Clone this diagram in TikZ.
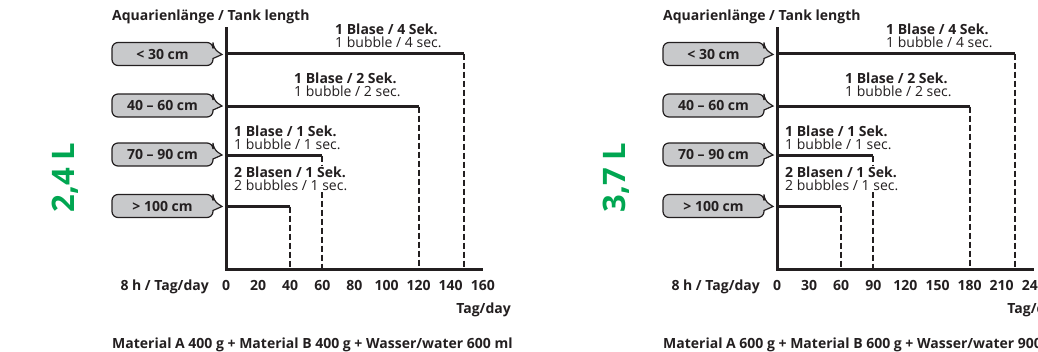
\documentclass[tikz,border=0pt]{standalone}
\usepackage{fontspec}
\setmainfont{Open Sans}
\usetikzlibrary{positioning,calc}
\definecolor{inkgray}{HTML}{231F20}
\definecolor{boxgray}{HTML}{C8C9CB}
\definecolor{dosegreen}{HTML}{00A651}
\tikzset{
  axisline/.style={draw=inkgray, line width=3pt},
  barline/.style={draw=inkgray, line width=3pt},
  guideline/.style={draw=inkgray, line width=2pt, dash pattern=on 6pt off 3pt},
  bubbleline/.style={draw=inkgray, fill=boxgray, line width=1.2pt},
  tankbox/.style={inner sep=0pt, text=inkgray, font=\bfseries\fontsize{14}{14}\selectfont},
  ratelabel/.style={anchor=base west, align=left, inner sep=1pt, fill=white,
    text=inkgray, font=\fontsize{14}{13}\selectfont},
  boldlabel/.style={inner sep=0pt, text=inkgray, font=\bfseries\fontsize{14}{14}\selectfont},
  ticklabel/.style={boldlabel, anchor=base},
  volumelabel/.style={inner sep=0pt, rotate=90, anchor=base, text=dosegreen,
    font=\bfseries\fontsize{31}{31}\selectfont},
  tankbubble/.pic={
    \draw[bubbleline] (50.5,4.5) [rounded corners=6pt] -- (50.5,11.5) -- (-50.5,11.5)
      -- (-50.5,-11.5) -- (50.5,-11.5) -- (50.5,-5.5) [sharp corners] -- (59.5,0.5) -- cycle;
    \node[tankbox] (-txt) at (0,0) {#1};
  },
}

\begin{document}
\begin{tikzpicture}[x=1pt, y=-1pt]
  \useasboundingbox (0,0) rectangle (1038,351);
  \clip (0,0) rectangle (1038,351);

  \foreach \dx/\vol/\dstep/\ma/\mw in {0/{2,4 L}/20/400/600, 551/{3,7 L}/30/600/900} {
  \begin{scope}[xshift=\dx pt]
    \node[boldlabel, anchor=base west] (title) at (112,20.5) {Aquarienlänge / Tank length};
    \node[volumelabel] (volume) at (74,177.5) {\vol};

    % axes
    \coordinate (top) at (226,27);
    \coordinate (origin) at (226,269);
    \coordinate (right) at (483,269);

    % dashed guides
    \foreach \y/\e/\n in {53.5/464/1, 106.5/418.6/2, 155.5/322.3/3, 206.5/290.2/4} {
      \coordinate (bs\n) at (226,\y);
      \coordinate (be\n) at (\e,\y);
      \draw[guideline] (be\n) -- (be\n |- origin);
    }

    \node[ratelabel] (rate1) at (334,47.7) {\textbf{1 Blase / 4 Sek.}\\1 bubble / 4 sec.};
    \node[ratelabel] (rate2) at (293,96.7) {\textbf{1 Blase / 2 Sek.}\\1 bubble / 2 sec.};
    \node[ratelabel] (rate3) at (233,149) {\textbf{1 Blase / 1 Sek.}\\1 bubble / 1 sec.};
    \node[ratelabel] (rate4) at (233,190.7) {\textbf{2 Blasen / 1 Sek.}\\2 bubbles / 1 sec.};

    % bars
    \foreach \n in {1,...,4}
      \draw[barline] (bs\n) -- (be\n);
    \draw[axisline] (top) -- (origin) -- (right);

    \pic (tank1) at (162.5,54) {tankbubble={< 30 cm}};
    \pic (tank2) at (162.5,105.5) {tankbubble={40 – 60 cm}};
    \pic (tank3) at (162.5,154.5) {tankbubble={70 – 90 cm}};
    \pic (tank4) at (162.5,206) {tankbubble={> 100 cm}};

    % time axis
    \foreach \i [evaluate=\i as \val using int(\i*\dstep)] in {0,...,8}
      \node[ticklabel] (tick\i) at (226+\i*32.1,290) {\val};
    \node[boldlabel, anchor=base east] (hours) at (209,290) {8 h / Tag/day};
    \node[boldlabel, anchor=base east] (days) at (511,313) {Tag/day};
    \node[boldlabel, anchor=base west] (recipe) at (112,348)
      {Material A \ma\ g + Material B \ma\ g + Wasser/water \mw\ ml};
  \end{scope}
  }
\end{tikzpicture}
\end{document}
